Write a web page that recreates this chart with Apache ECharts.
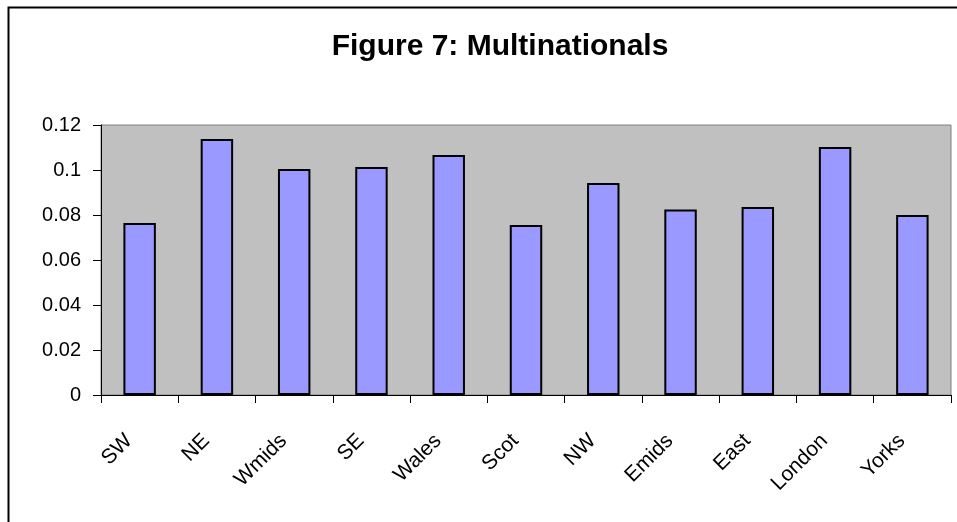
<!DOCTYPE html>
<html>
<head>
<meta charset="utf-8">
<script src="https://cdn.jsdelivr.net/npm/echarts@6/dist/echarts.min.js"></script>
<style>
html,body{margin:0;padding:0;background:#fff;}
#chart{width:957px;height:522px;}
</style>
</head>
<body>
<div id="chart"></div>
<script>
var categories = ['SW','NE','Wmids','SE','Wales','Scot','NW','Emids','East','London','Yorks'];
var values = [0.0764, 0.1138, 0.1004, 0.1013, 0.1067, 0.0756, 0.0942, 0.0825, 0.0836, 0.1102, 0.0800];
var titleText = 'Figure 7: Multinationals';

var FONT = 'Liberation Sans, Arial, sans-serif';
var chart = echarts.init(document.getElementById('chart'));
chart.setOption({
  animation: false,
  backgroundColor: '#ffffff',
  textStyle: { fontFamily: FONT },
  title: {
    text: titleText,
    left: 495, top: 27, textAlign: 'center',
    textStyle: { fontFamily: FONT, fontSize: 30, fontWeight: 'bold', color: '#000' }
  },
  graphic: [{
    type: 'rect', left: 6, top: 5, z: 100,
    shape: { width: 1000, height: 600 },
    style: { fill: 'none', stroke: '#000', lineWidth: 2 }
  }],
  grid: {
    left: 101, top: 125, right: 6, bottom: 127,
    show: true, backgroundColor: '#c0c0c0', borderColor: '#808080', borderWidth: 1
  },
  xAxis: {
    type: 'category', data: categories,
    axisLine: { lineStyle: { color: '#000', width: 1 } },
    axisTick: { show: true, length: 8, lineStyle: { color: '#000' } },
    axisLabel: {
      rotate: 45, margin: 32, interval: 0,
      formatter: function (v) { return '{a|' + v + '}'; },
      rich: { a: { fontSize: 21, color: '#000', fontFamily: FONT, padding: [0, 15, 0, 0] } }
    }
  },
  yAxis: {
    type: 'value', min: 0, max: 0.12, interval: 0.02,
    axisLine: { show: true, lineStyle: { color: '#000', width: 1 } },
    axisTick: { show: true, length: 8, lineStyle: { color: '#000' } },
    splitLine: { show: false },
    axisLabel: { margin: 20, fontSize: 20, color: '#000', fontFamily: FONT,
      formatter: function (v) { return String(parseFloat(v.toFixed(2))); } }
  },
  series: [{
    type: 'bar', data: values, barCategoryGap: '58%',
    itemStyle: { color: '#9999ff', borderColor: '#000', borderWidth: 2 }
  }]
});
</script>
</body>
</html>
